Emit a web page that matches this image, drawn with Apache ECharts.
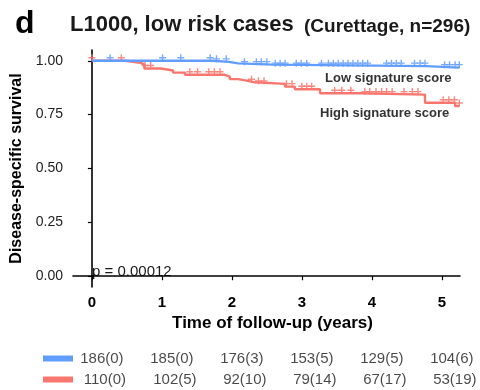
<!DOCTYPE html>
<html>
<head>
<meta charset="utf-8">
<script src="https://cdn.jsdelivr.net/npm/echarts@6/dist/echarts.min.js"></script>
<style>
  html, body { margin: 0; padding: 0; background: #fff; }
  #main { width: 480px; height: 390px; }
</style>
</head>
<body>
<div id="main"></div>
<script>
// Kaplan-Meier steps (time in years, survival)
const lowTimes = [0, 1.71, 1.96, 2.09, 2.59, 4.78, 5.25];
const lowSurv = [1.0, 0.995, 0.988, 0.982, 0.975, 0.968, 0.968];
const highTimes = [0, 0.48, 0.69, 0.75, 0.99, 1.16, 1.33, 1.90, 1.97, 2.09, 2.21, 2.33, 2.76, 2.90, 3.26, 3.85, 4.76, 5.19, 5.25];
const highSurv = [1.0, 0.991, 0.982, 0.964, 0.955, 0.945, 0.935, 0.926, 0.915, 0.908, 0.900, 0.893, 0.880, 0.868, 0.849, 0.843, 0.805, 0.790, 0.790];

// censoring times
const lowCensor = [0.26, 1.01, 1.27, 1.69, 1.78, 1.92, 2.18, 2.35, 2.42, 2.50, 2.62, 2.69, 2.76, 2.92, 2.99, 3.07, 3.28, 3.38, 3.45, 3.52, 3.59, 3.66, 3.73, 3.80, 3.87, 3.94, 4.21, 4.28, 4.35, 4.42, 4.61, 4.69, 4.76, 5.04, 5.11, 5.19, 5.25];
const highCensor = [0, 0.42, 0.76, 0.84, 1.40, 1.51, 1.67, 1.75, 1.83, 2.28, 2.38, 2.46, 2.78, 2.86, 3.00, 3.07, 3.14, 3.47, 3.57, 3.70, 3.90, 3.97, 4.06, 4.14, 4.21, 4.29, 4.46, 4.58, 4.66, 5.02, 5.10, 5.18, 5.25];

// number at risk (events) table
const riskTimes = [0, 1, 2, 3, 4, 5];
const lowRisk = ['186(0)', '185(0)', '176(3)', '153(5)', '129(5)', '104(6)'];
const highRisk = ['110(0)', '102(5)', '92(10)', '79(14)', '67(17)', '53(19)'];

const xTicks = [0, 1, 2, 3, 4, 5];
const yTicks = [0, 0.25, 0.5, 0.75, 1];

const BLUE = '#619CFF';
const RED = '#F8766D';
const FONT = '"Liberation Sans", Arial';
const PLUS = 'path://M4,0L6,0L6,4L10,4L10,6L6,6L6,10L4,10L4,6L0,6L0,4L4,4Z';

function survAt(times, surv, t) {
  let s = surv[0];
  for (let i = 0; i < times.length; i++) {
    if (times[i] <= t) s = surv[i];
  }
  return s;
}

const chart = echarts.init(document.getElementById('main'));

const option = {
  backgroundColor: '#fff',
  animation: false,
  graphic: [
    { type: 'text', left: 15, top: 8, style: { text: 'd', font: 'bold 32px ' + FONT, fill: '#000' } },
    { type: 'text', left: 70, top: 14, style: { text: 'L1000, low risk cases', font: 'bold 22px ' + FONT, fill: '#1a1a1a' } },
    { type: 'text', left: 304, top: 17, style: { text: '(Curettage, n=296)', font: 'bold 19px ' + FONT, fill: '#1a1a1a' } },
    { type: 'text', left: 92, top: 264, style: { text: 'p = 0.00012', font: '15px ' + FONT, fill: '#1a1a1a' } },
    { type: 'text', left: 325, top: 72, style: { text: 'Low signature score', font: 'bold 13px ' + FONT, fill: '#333' } },
    { type: 'text', left: 320, top: 107, style: { text: 'High signature score', font: 'bold 13px ' + FONT, fill: '#333' } }
  ],
  grid: [
    { left: 73, right: 20, top: 50, bottom: 103 },
    { left: 73, right: 20, top: 348, height: 50 }
  ],
  xAxis: [
    {
      type: 'value', gridIndex: 0, min: -0.27, max: 5.26,
      name: 'Time of follow-up (years)', nameLocation: 'middle', nameGap: 28,
      nameTextStyle: { fontFamily: FONT, fontWeight: 'bold', fontSize: 17, color: '#000', padding: [0, 0, 0, 12] },
      axisLine: { show: true, lineStyle: { color: '#000', width: 1.6 } },
      axisTick: { show: true, length: 4, customValues: xTicks, lineStyle: { color: '#000', width: 1.2 } },
      axisLabel: { customValues: xTicks, margin: 8, fontFamily: FONT, fontWeight: 'bold', fontSize: 15, color: '#000' },
      splitLine: { show: false }
    },
    {
      type: 'value', gridIndex: 1, min: -0.27, max: 5.26,
      axisLine: { show: false }, axisTick: { show: false }, axisLabel: { show: false }, splitLine: { show: false }
    }
  ],
  yAxis: [
    {
      type: 'value', gridIndex: 0, min: -0.05, max: 1.05,
      name: 'Disease-specific survival', nameLocation: 'middle', nameGap: 47,
      nameTextStyle: { fontFamily: FONT, fontWeight: 'bold', fontSize: 16, color: '#000' },
      axisLine: { show: true, lineStyle: { color: '#000', width: 1.6 } },
      axisTick: { show: true, length: 4, customValues: yTicks, lineStyle: { color: '#000', width: 1.2 } },
      axisLabel: {
        customValues: yTicks, margin: 10, fontFamily: FONT, fontSize: 14, color: '#222',
        formatter: v => v.toFixed(2)
      },
      splitLine: { show: false }
    },
    {
      type: 'category', gridIndex: 1, inverse: true, data: ['low', 'high'],
      axisLine: { show: false }, axisTick: { show: false }, splitLine: { show: false },
      axisLabel: {
        margin: 0,
        formatter: v => v === 'low' ? '{b|}' : '{r|}',
        rich: {
          b: { backgroundColor: BLUE, width: 30, height: 6 },
          r: { backgroundColor: RED, width: 30, height: 6 }
        }
      }
    }
  ],
  series: [
    {
      type: 'line', step: 'end', xAxisIndex: 0, yAxisIndex: 0, symbol: 'none',
      lineStyle: { color: RED, width: 2.4 },
      data: highTimes.map((t, i) => [t, highSurv[i]])
    },
    {
      type: 'line', step: 'end', xAxisIndex: 0, yAxisIndex: 0, symbol: 'none',
      lineStyle: { color: BLUE, width: 2.4 },
      data: lowTimes.map((t, i) => [t, lowSurv[i]])
    },
    {
      type: 'scatter', xAxisIndex: 0, yAxisIndex: 0, symbol: PLUS, symbolSize: 7, symbolOffset: [0, -3], clip: false,
      itemStyle: { color: BLUE, opacity: 0.85 },
      data: lowCensor.map(t => [t, survAt(lowTimes, lowSurv, t)])
    },
    {
      type: 'scatter', xAxisIndex: 0, yAxisIndex: 0, symbol: PLUS, symbolSize: 7, symbolOffset: [0, -3], clip: false,
      itemStyle: { color: RED, opacity: 0.85 },
      data: highCensor.map(t => [t, survAt(highTimes, highSurv, t)])
    },
    {
      type: 'scatter', xAxisIndex: 1, yAxisIndex: 1, symbolSize: 0,
      label: {
        show: true, position: 'inside', offset: [10, 0], formatter: p => p.data[2],
        fontFamily: FONT, fontSize: 15, color: '#1a1a1a'
      },
      data: riskTimes.map((t, i) => [t, 'low', lowRisk[i]])
    },
    {
      type: 'scatter', xAxisIndex: 1, yAxisIndex: 1, symbolSize: 0,
      label: {
        show: true, position: 'inside', offset: [13, 0], formatter: p => p.data[2],
        fontFamily: FONT, fontSize: 15, color: '#1a1a1a'
      },
      data: riskTimes.map((t, i) => [t, 'high', highRisk[i]])
    }
  ]
};

chart.setOption(option);
</script>
</body>
</html>
